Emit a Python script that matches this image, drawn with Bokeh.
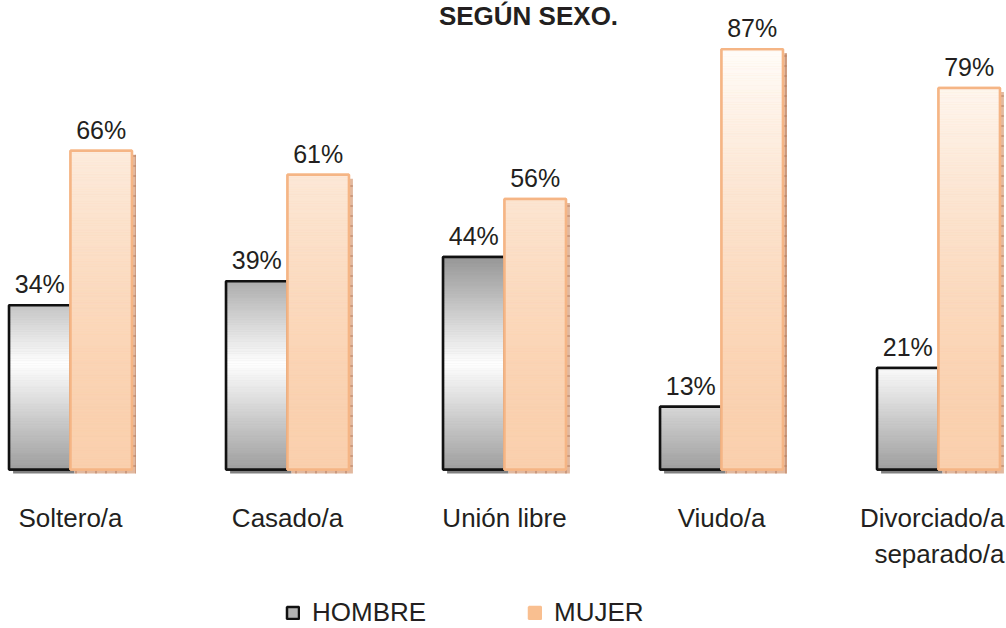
import numpy as np
from bokeh.plotting import figure
from bokeh.models import Range1d, ColumnDataSource, Legend, LegendItem, Label
from bokeh.core.properties import value
from bokeh.embed import file_html
from bokeh.resources import INLINE

# ---------------- data ----------------
categories = ["Soltero/a", "Casado/a", "Unión libre", "Viudo/a", "Divorciado/a\nseparado/a"]
hombre = [34, 39, 44, 13, 21]
mujer = [66, 61, 56, 87, 79]
series = ["HOMBRE", "MUJER"]
title_text = "SEGÚN SEXO."

# ---------------- layout ----------------
OFF = 0
W, H = 1006, 628
PX_X = 217.0          # px per category
X0 = 70 - OFF         # px of first category centre
PX_Y = 4.83           # px per percent
Y0 = 469 - OFF        # baseline px from top
BW = 0.283            # bar width in category units
FONT = "Liberation Sans"

p = figure(width=W, height=H, output_backend="svg", toolbar_location=None,
           x_range=Range1d(-X0 / PX_X, (W - X0) / PX_X),
           y_range=Range1d(-(H - Y0) / PX_Y, Y0 / PX_Y),
           x_axis_location=None, y_axis_location=None, min_border=0)
p.outline_line_color = None
p.grid.visible = False
p.background_fill_color = "white"
p.border_fill_color = "white"

xs = np.arange(len(categories), dtype=float)
h = np.array(hombre, dtype=float)
m = np.array(mujer, dtype=float)

dx = 4 / PX_X
dy = 4 / PX_Y


def gray(v):
    if v <= 22:
        c = 255 - (22 - v) / 22 * (255 - 158)
    else:
        c = max(150, 255 - (v - 22) / 22 * (255 - 150))
    c = int(round(c))
    return "#%02x%02x%02x" % (c, c, c)


def peach(v):
    t = min(1.0, max(0.0, v / 87.0)) ** 1.7
    lo = (250, 208, 174)
    hi = (255, 253, 250)
    r, g, b = [int(round(a + (b_ - a) * t)) for a, b_ in zip(lo, hi)]
    return "#%02x%02x%02x" % (r, g, b)


def strips(lefts, vals, colfun, step=0.5):
    L, R, B, T, C = [], [], [], [], []
    for left, v in zip(lefts, vals):
        y = 0.0
        while y < v - 1e-9:
            top = min(v, y + step)
            L.append(left); R.append(left + BW); B.append(y); T.append(top)
            C.append(colfun((y + top) / 2))
            y = top
    return ColumnDataSource(dict(left=L, right=R, bottom=B, top=T, color=C))


# ---- HOMBRE ----
hl = xs - BW
p.quad(left=hl + dx, right=hl + BW + dx, bottom=-dy, top=h - dy,
       fill_color="#808080", line_color=None)
r_h = p.quad(left=hl, right=hl + BW, bottom=0, top=h,
             fill_color="#b4b4b4", line_color="#111111", line_width=2.5)
p.quad(left="left", right="right", bottom="bottom", top="top", source=strips(hl, h, gray),
       fill_color="color", line_color="color", line_width=0.6)
p.quad(left=hl, right=hl + BW, bottom=0, top=h,
       fill_color=None, line_color="#111111", line_width=2.5)

# ---- MUJER ----
ml = xs
p.quad(left=ml + dx, right=ml + BW + dx, bottom=-dy, top=m - dy,
       fill_color="#e2b89e", line_color=None,
       hatch_pattern="+", hatch_color="#b47a5c", hatch_scale=10, hatch_weight=1)
r_m = p.quad(left=ml, right=ml + BW, bottom=0, top=m,
             fill_color="#f9bf90", line_color="#f9bf90", line_width=2.5)
p.quad(left="left", right="right", bottom="bottom", top="top", source=strips(ml, m, peach),
       fill_color="color", line_color="color", line_width=0.6)
p.quad(left=ml, right=ml + BW, bottom=0, top=m,
       fill_color=None, line_color="#f5b585", line_width=2.5)

# ---- value labels ----
lab = ColumnDataSource(dict(
    x=np.concatenate([hl + BW / 2, ml + BW / 2]),
    y=np.concatenate([h, m]),
    t=[f"{v}%" for v in hombre] + [f"{v}%" for v in mujer]))
p.text(x="x", y="y", text="t", source=lab, text_align="center", text_baseline="alphabetic",
       y_offset=-21, text_font=value(FONT), text_font_size="25px", text_color="#231f20")

# ---- category labels ----
cat = ColumnDataSource(dict(
    x=xs, y=[-7.0] * len(xs), t=categories,
    align=["center"] * (len(xs) - 1) + ["right"],
    xo=[0] * (len(xs) - 1) + [66]))
p.text(x="x", y="y", text="t", source=cat, text_align="align", x_offset="xo",
       text_baseline="top", text_line_height=1.2,
       text_font=value(FONT), text_font_size="26px", text_color="#231f20")

# ---- title (kept at the very top, fully visible) ----
p.add_layout(Label(x=528 - OFF, y=H, x_units="screen", y_units="screen",
                   text=title_text, text_align="center", text_baseline="top",
                   text_font=FONT, text_font_size="26px", text_font_style="bold",
                   text_color="#231f20"))

# ---- legend ----
legend = Legend(items=[LegendItem(label=series[0], renderers=[r_h]),
                       LegendItem(label=series[1], renderers=[r_m])],
                orientation="horizontal", location=(285 - OFF, 0),
                glyph_width=15, glyph_height=15, label_standoff=12,
                label_width=215, spacing=0, padding=0, margin=0,
                border_line_color=None, background_fill_alpha=0,
                label_text_font=FONT, label_text_font_size="26px",
                label_text_color="#231f20")
p.add_layout(legend)

open("out.html", "w").write(file_html(p, INLINE))
